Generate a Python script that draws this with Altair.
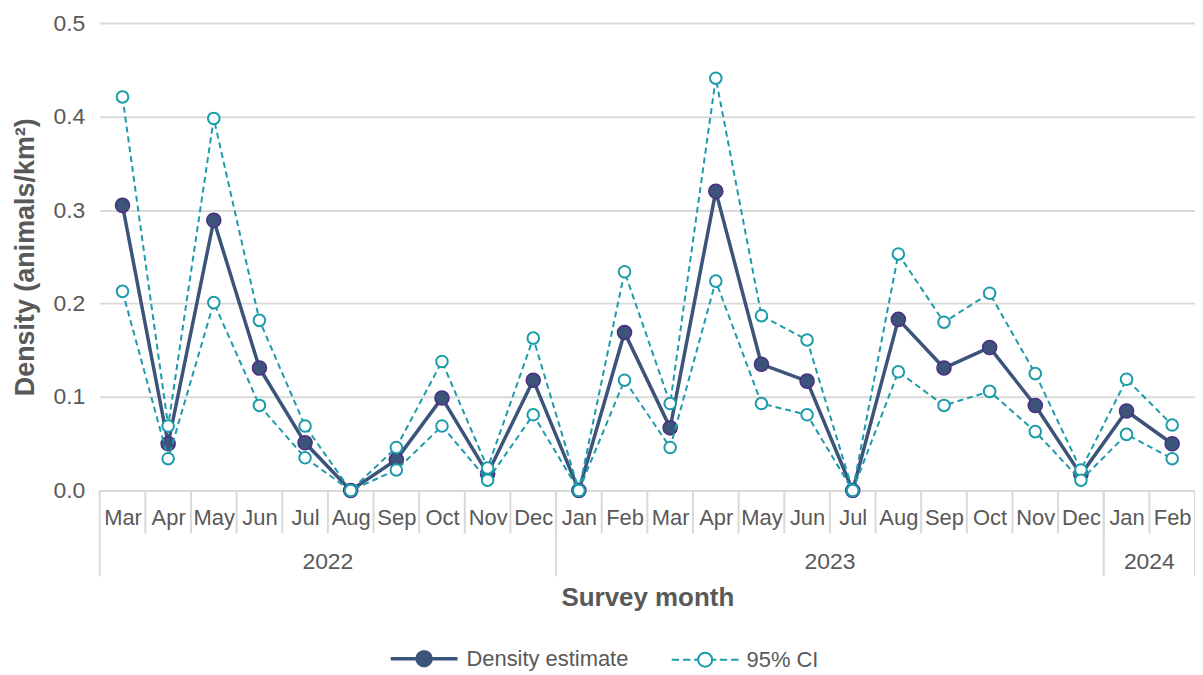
import altair as alt
import pandas as pd

months = ["Mar", "Apr", "May", "Jun", "Jul", "Aug", "Sep", "Oct", "Nov", "Dec",
          "Jan", "Feb", "Mar", "Apr", "May", "Jun", "Jul", "Aug", "Sep", "Oct", "Nov", "Dec",
          "Jan", "Feb"]
years = ["2022"] * 10 + ["2023"] * 12 + ["2024"] * 2
estimate = [0.305, 0.050, 0.289, 0.131, 0.051, 0.0, 0.033, 0.099, 0.018, 0.118,
            0.0, 0.169, 0.067, 0.320, 0.135, 0.117, 0.0, 0.183, 0.131, 0.153, 0.091, 0.017,
            0.085, 0.050]
upper = [0.421, 0.069, 0.398, 0.182, 0.069, 0.0, 0.046, 0.138, 0.024, 0.163,
         0.0, 0.234, 0.093, 0.441, 0.187, 0.161, 0.0, 0.253, 0.180, 0.211, 0.125, 0.022,
         0.119, 0.070]
lower = [0.213, 0.034, 0.201, 0.091, 0.035, 0.0, 0.022, 0.069, 0.011, 0.081,
         0.0, 0.118, 0.046, 0.224, 0.093, 0.081, 0.0, 0.127, 0.091, 0.106, 0.063, 0.011,
         0.060, 0.034]
series_names = ["Density estimate", "95% CI"]

W, H = 1099, 469
TEXT = "#595959"
GRID = "#D9D9D9"
NAVY = "#3C5479"
PURPLE = "#4B2E83"
TEAL = "#1C9BAA"
FONT = "Liberation Sans"

n = len(months)
idx = list(range(n))
est_df = pd.DataFrame({"i": idx, "month": months, "year": years, "value": estimate})
ci_df = pd.concat([
    pd.DataFrame({"i": idx, "value": upper, "bound": "upper"}),
    pd.DataFrame({"i": idx, "value": lower, "bound": "lower"}),
])

# axis structure from the category lists
yr = est_df.groupby("year", sort=False)["i"].agg(["min", "max"]).reset_index()
yr["mid"] = (yr["min"] + yr["max"]) / 2
year_bounds = sorted(set([r - 0.5 for r in yr["min"]] + [yr["max"].iloc[-1] + 0.5]))
ybound_df = pd.DataFrame({"i": year_bounds})
msep_df = pd.DataFrame({"i": [i - 0.5 for i in idx[1:]]})
ylab_df = pd.DataFrame({"i": yr["mid"], "year": yr["year"]})

xscale = alt.Scale(domain=[-0.5, n - 0.5], nice=False, zero=False)
yscale = alt.Scale(domain=[0, 0.5], nice=False)

label_js = "[" + ",".join("'%s'" % m for m in months) + "][datum.value]"

x_axis = alt.Axis(values=idx, labelExpr=label_js, ticks=False, domain=False, grid=False,
                  labelFont=FONT, labelFontSize=22, labelColor=TEXT, labelBaseline="middle",
                  labelPadding=27, labelAngle=0,
                  title="Survey month", titleFont=FONT, titleFontSize=26, titleFontWeight="bold",
                  titleColor=TEXT, titleY=107, titleBaseline="middle")
y_axis = alt.Axis(values=[0, 0.1, 0.2, 0.3, 0.4, 0.5], format=".1f", ticks=False, domain=False,
                  grid=True, gridColor=GRID, gridWidth=2,
                  labelFont=FONT, labelFontSize=23, labelColor=TEXT, labelPadding=15,
                  title="Density (animals/km²)", titleFont=FONT, titleFontSize=27,
                  titleFontWeight="bold", titleColor=TEXT, titleX=-74, titleY=H / 2,
                  titleAngle=-90, titleBaseline="middle", titleAlign="center")

X = alt.X("i:Q", scale=xscale, axis=x_axis)
Y = alt.Y("value:Q", scale=yscale, axis=y_axis)

base_est = alt.Chart(est_df)
est_line = base_est.mark_line(color=NAVY, strokeWidth=3.5).encode(x=X, y=Y)
est_pts = base_est.mark_point(filled=True, fill=NAVY, stroke=PURPLE, strokeWidth=1.5,
                              size=200, opacity=1, shape="circle").encode(x=X, y=Y)

base_ci = alt.Chart(ci_df)
ci_line = base_ci.mark_line(color=TEAL, strokeWidth=2, strokeDash=[6, 4]).encode(
    x=X, y=Y, detail="bound:N")
ci_pts = base_ci.mark_point(filled=False, fill="white", stroke=TEAL, strokeWidth=2,
                            size=135, opacity=1, shape="circle").encode(x=X, y=Y)

# axis separators and year labels
msep = alt.Chart(msep_df).mark_rule(color=GRID, strokeWidth=2).encode(
    x=X, y=alt.value(H), y2=alt.value(H + 43))
ysep = alt.Chart(ybound_df).mark_rule(color=GRID, strokeWidth=2).encode(
    x=X, y=alt.value(H), y2=alt.value(H + 86))
ylab = alt.Chart(ylab_df).mark_text(font=FONT, fontSize=23, color=TEXT, baseline="middle").encode(
    x=X, y=alt.value(H + 72), text="year:N")

# legend (symbols drawn as custom paths: line + marker)
r = 0.21
p_est = ("M-1,0H%.2fM%.2f,0H1M%.2f,0A%.2f,%.2f,0,1,1,%.2f,0A%.2f,%.2f,0,1,1,%.2f,0Z"
         % (-r, r, -r, r, r, r, r, r, -r))
dashes = [(-1, -0.78), (-0.66, -0.44), (-0.33, -r)]
p_ci = "".join("M%.2f,0H%.2f" % (a, b) for a, b in dashes)
p_ci += "".join("M%.2f,0H%.2f" % (-b, -a) for a, b in dashes)
p_ci += "M%.2f,0A%.2f,%.2f,0,1,1,%.2f,0A%.2f,%.2f,0,1,1,%.2f,0Z" % (-r, r, r, r, r, r, -r)

leg_df = pd.DataFrame({"series": series_names})
legend = alt.Legend(title=None, orient="none", legendX=290, legendY=602, direction="horizontal",
                    labelFont=FONT, labelFontSize=22, labelColor=TEXT, labelLimit=400,
                    labelOffset=7, columnPadding=39, symbolSize=4489, padding=0,
                    symbolOpacity=1)
leg = alt.Chart(leg_df).mark_point(opacity=1).encode(
    shape=alt.Shape("series:N", scale=alt.Scale(domain=series_names, range=[p_est, p_ci]),
                    legend=legend),
    stroke=alt.Stroke("series:N", scale=alt.Scale(domain=series_names, range=[NAVY, TEAL]),
                      legend=legend),
    fill=alt.Fill("series:N", scale=alt.Scale(domain=series_names, range=[NAVY, "white"]),
                  legend=legend),
    strokeWidth=alt.StrokeWidth("series:N", scale=alt.Scale(domain=series_names, range=[3.5, 2]),
                                legend=legend),
).transform_filter("false")

chart = alt.layer(msep, ysep, ylab, est_line, est_pts, ci_line, ci_pts, leg).properties(
    width=W, height=H,
    autosize=alt.AutoSizeParams(type="none"),
    padding={"left": 92, "top": 14, "right": 0, "bottom": 182},
).configure_view(stroke=None)

chart.save("out.html", embed_options={"renderer": "svg", "actions": False})
